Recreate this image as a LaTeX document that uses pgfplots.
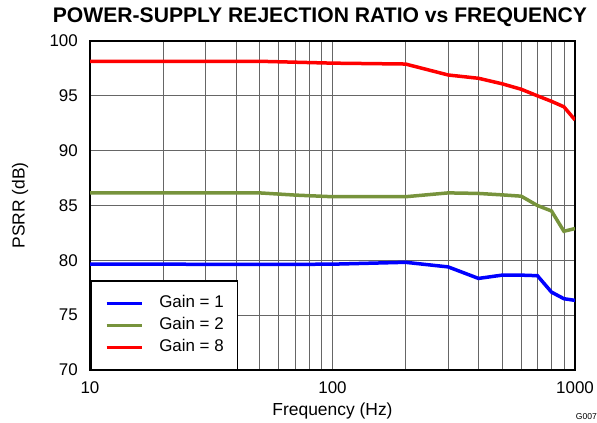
\documentclass[border=0pt]{standalone}
\usepackage{fontspec}
\setmainfont{Liberation Sans}
\usepackage{pgfplots}
\pgfplotsset{compat=1.18}
\definecolor{cblue}{RGB}{0,0,255}
\definecolor{cgreen}{RGB}{119,147,60}
\definecolor{cred}{RGB}{255,0,0}
\begin{document}
\begin{tikzpicture}
\useasboundingbox (-90bp,-53bp) rectangle (507bp,370bp);
\begin{axis}[
  at={(0,0)}, anchor=south west,
  scale only axis, width=485bp, height=329bp,
  xmode=log, xmin=10, xmax=1000, ymin=70, ymax=100,
  ytick={70,75,80,85,90,95,100},
  xtick={10,100,1000}, xticklabels={10,100,1000},
  minor xtick={20,30,40,50,60,70,80,90,200,300,400,500,600,700,800,900},
  grid=both,
  major grid style={black!60, line width=0.8bp},
  minor grid style={black!60, line width=0.8bp},
  axis line style={line width=2bp},
  tick style={draw=none},
  /pgf/number format/assume math mode=true,
  xticklabel style={font=\fontsize{17}{17}\selectfont, anchor=base, inner sep=0pt, yshift=-23bp},
  yticklabel style={font=\fontsize{17}{17}\selectfont, anchor=east, inner sep=0pt, xshift=-12bp},
  xlabel={Frequency (Hz)},
  ylabel={PSRR (dB)},
  xlabel style={font=\fontsize{17.5}{17.5}\selectfont, at={(axis description cs:0.5,0)}, anchor=base, inner sep=0pt, yshift=-45bp},
  ylabel style={font=\fontsize{17.5}{17.5}\selectfont, at={(axis description cs:-0.1443,0.5)}, anchor=center, inner sep=0pt},
  title={POWER-SUPPLY REJECTION RATIO vs FREQUENCY},
  title style={font=\bfseries\fontsize{21.2}{21.2}\selectfont, at={(axis description cs:0.474,1)}, anchor=base, inner sep=0pt, yshift=13bp},
  legend cell align=left,
  legend image code/.code={\draw[#1, line width=3.5bp] (0bp,0bp) -- (35bp,0bp);},
  legend style={at={(0,0)}, anchor=south west, draw=black, line width=1.5bp, fill=white,
    font=\fontsize{17}{17}\selectfont, inner xsep=14bp, inner ysep=14.5bp, row sep=7bp,
    column sep=16bp,
    nodes={inner sep=0pt, text height=12bp, text depth=3bp}},
]
\addplot[cblue, line width=3.5bp] coordinates {
(10,79.65) (20,79.65) (50,79.62) (100,79.65) (200,79.82) (300,79.4) (400,78.35) (500,78.65) (600,78.65) (700,78.6) (800,77.1) (900,76.5) (1000,76.35)
};
\addlegendentry{Gain = 1}
\addplot[cgreen, line width=3.5bp] coordinates {
(10,86.15) (50,86.15) (70,85.95) (100,85.8) (200,85.8) (300,86.15) (400,86.1) (500,85.97) (600,85.85) (700,85.0) (800,84.5) (900,82.65) (1000,82.9)
};
\addlegendentry{Gain = 2}
\addplot[cred, line width=3.5bp] coordinates {
(10,98.15) (50,98.15) (100,97.98) (200,97.9) (300,96.9) (400,96.6) (500,96.1) (600,95.6) (700,95.0) (800,94.5) (900,94.0) (1000,92.8)
};
\addlegendentry{Gain = 8}
\end{axis}
\node[anchor=base east, inner sep=0pt, font=\fontsize{8.6}{8.6}\selectfont] at (507bp,-49bp) {G007};
\end{tikzpicture}
\end{document}
